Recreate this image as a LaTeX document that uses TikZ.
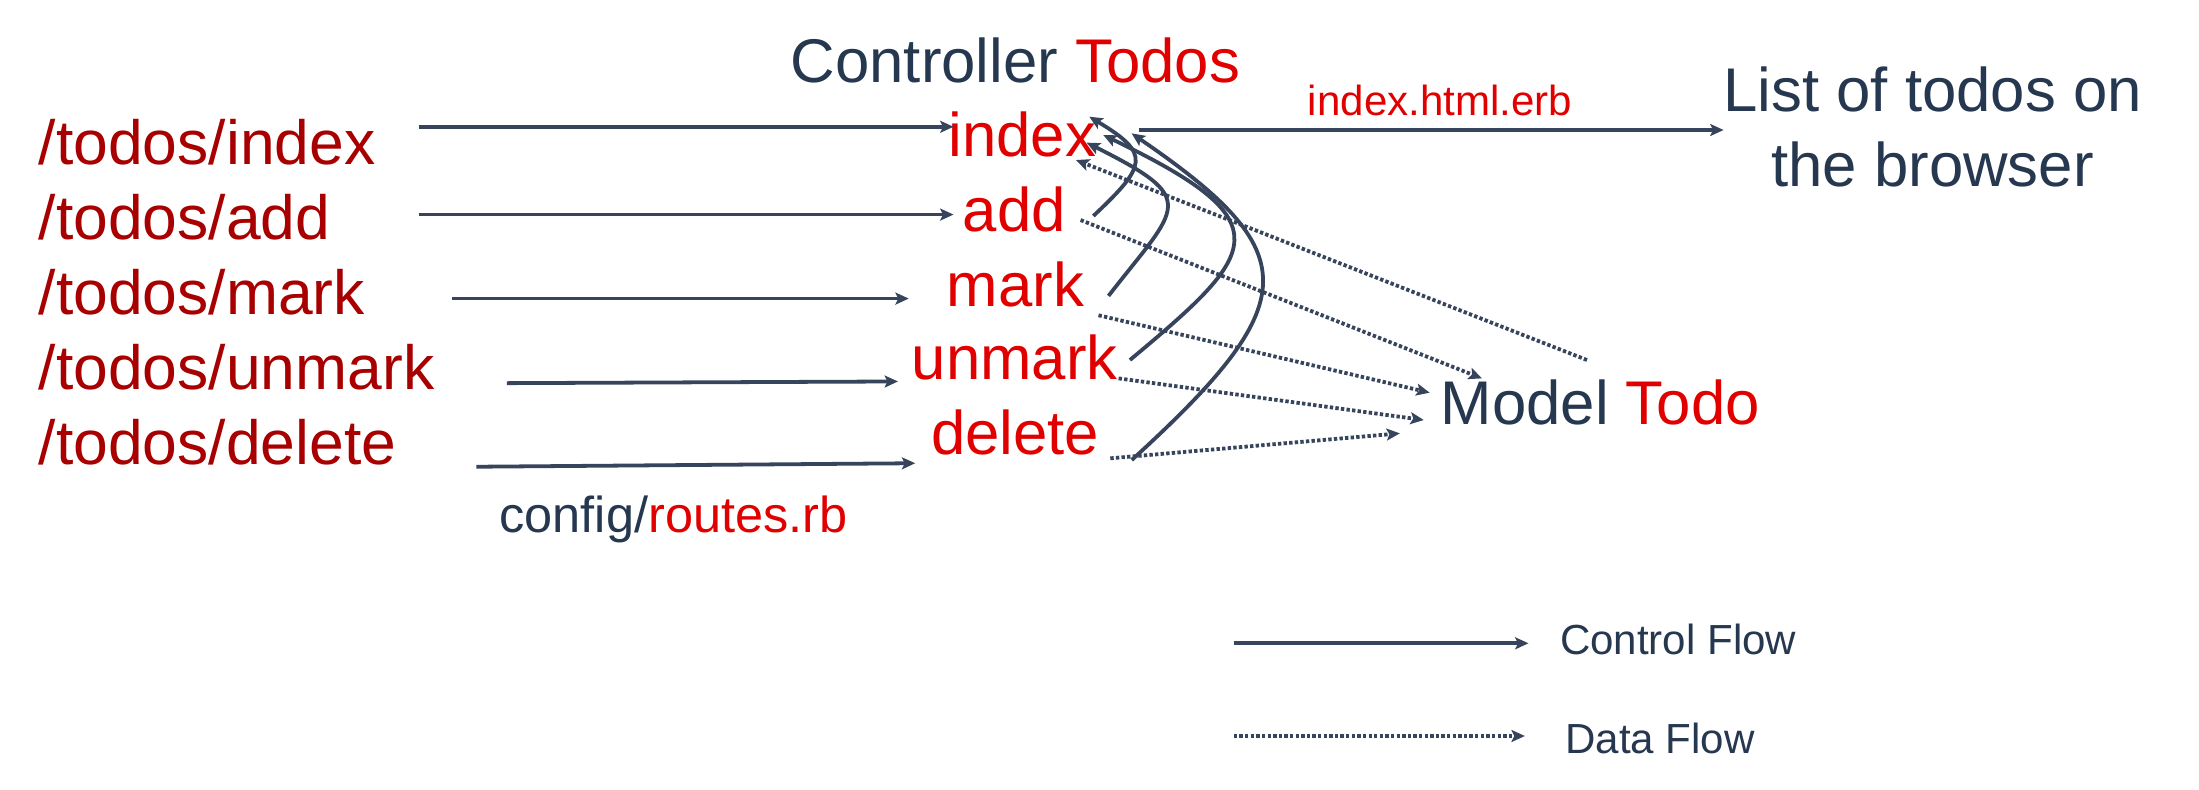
\documentclass[tikz,border=0pt]{standalone}
\usepackage{fontspec}
\setmainfont{Liberation Sans}
\usetikzlibrary{arrows.meta}
\definecolor{slate}{HTML}{263750}
\definecolor{lineslate}{HTML}{36445C}
\definecolor{routered}{HTML}{A80000}
\definecolor{actred}{HTML}{E00000}
\tikzset{
  routelbl/.style={font=\fontsize{44.5}{53}\selectfont, text=routered, inner sep=0pt, anchor=base west},
  actlbl/.style={font=\fontsize{44}{53}\selectfont, text=actred, inner sep=0pt, anchor=base},
  biglbl/.style={font=\fontsize{44}{53.5}\selectfont, text=slate, inner sep=0pt, anchor=base},
  smalllbl/.style={font=\fontsize{30}{36}\selectfont, inner sep=0pt},
  ctrlflow/.style={draw=lineslate, line width=2.7pt, -{Stealth[length=9.5pt,width=8.5pt,inset=2pt]}},
  dataflow/.style={draw=lineslate, line width=2.7pt, dash pattern=on 2.4pt off 1.6pt, -{Stealth[length=9.5pt,width=8.5pt,inset=2pt]}}
}
\begin{document}
\begin{tikzpicture}[x=1pt,y=-1pt]
\path[use as bounding box, fill=white] (0,0) rectangle (1568,562.6);

% titles
\node[biglbl] (ctrl) at (724,58.6) {Controller \textcolor{actred}{Todos}};
\node[biglbl] (model) at (1141,303) {Model \textcolor{actred}{Todo}};
\node[biglbl, align=center] (list) at (1378,133.1) {List of todos on\\the browser};
\node[smalllbl, anchor=base, text=actred] (erb) at (1026.8,82) {index.html.erb};
\node[font=\fontsize{36}{43}\selectfont, inner sep=0pt, anchor=base, text=slate] (routes) at (480.2,379.4) {config/\textcolor{actred}{routes.rb}};

% routes
\node[routelbl] (rIndex) at (27.5,117.1) {/todos/index};
\node[routelbl] (rAdd) at (27.5,170.6) {/todos/add};
\node[routelbl] (rMark) at (27.5,224.1) {/todos/mark};
\node[routelbl] (rUnmark) at (27.5,277.6) {/todos/unmark};
\node[routelbl] (rDelete) at (27.5,331.0) {/todos/delete};

% actions
\node[actlbl] (aIndex) at (729,111.7) {index};
\node[actlbl] (aAdd) at (723.3,165.2) {add};
\node[actlbl] (aMark) at (724,218.2) {mark};
\node[actlbl] (aUnmark) at (723.6,270.9) {unmark};
\node[actlbl] (aDelete) at (723.9,324.4) {delete};

% connector end points
\coordinate (rIndexOut) at (298.8,90.4);   \coordinate (aIndexIn) at (679.9,90.4);
\coordinate (rAddOut) at (298.8,153.0);    \coordinate (aAddIn) at (679.9,153.0);
\coordinate (rMarkOut) at (322.4,212.9);   \coordinate (aMarkIn) at (648,212.9);
\coordinate (rUnmarkOut) at (361.5,273.2); \coordinate (aUnmarkIn) at (640.3,272.0);
\coordinate (rDeleteOut) at (339.7,332.8); \coordinate (aDeleteIn) at (652.6,330.3);

\coordinate (aIndexOut) at (811.8,92.7);   \coordinate (listIn) at (1229,92.7);

\coordinate (aAddUp) at (779.6,154.0);     \coordinate (retA) at (776.7,83.2);
\coordinate (aMarkUp) at (790.4,211.0);    \coordinate (retB) at (774.8,101.7);
\coordinate (aUnmarkUp) at (805.7,256.7);  \coordinate (retC) at (786.7,96.3);
\coordinate (aDeleteUp) at (807.0,328.0);  \coordinate (retD) at (806.9,95.1);

\coordinate (modelOut) at (1131.6,256.7);  \coordinate (aIndexData) at (767.2,114.1);
\coordinate (aAddData) at (770.5,156.9);   \coordinate (modelInA) at (1056.7,269.8);
\coordinate (aMarkData) at (783.3,224.8);  \coordinate (modelInB) at (1019.4,280.0);
\coordinate (aUnmarkData) at (797.6,269.8);\coordinate (modelInC) at (1015.2,299.5);
\coordinate (aDeleteData) at (791.7,326.8);\coordinate (modelInD) at (998.2,309.0);

% routes -> actions
\draw[ctrlflow] (rIndexOut) -- (aIndexIn);
\draw[ctrlflow] (rAddOut) -- (aAddIn);
\draw[ctrlflow] (rMarkOut) -- (aMarkIn);
\draw[ctrlflow] (rUnmarkOut) -- (aUnmarkIn);
\draw[ctrlflow] (rDeleteOut) -- (aDeleteIn);

% index -> browser
\draw[ctrlflow] (aIndexOut) -- (listIn);

% actions back to index
\draw[ctrlflow] (aAddUp) .. controls (817.9,118) and (820.8,109.6) .. (retA);
\draw[ctrlflow] (aMarkUp) .. controls (840.7,146.3) and (856.3,142.5) .. (retB);
\draw[ctrlflow] (aUnmarkUp) .. controls (897.6,180) and (916.7,158.6) .. (retC);
\draw[ctrlflow] (aDeleteUp) .. controls (930.9,215) and (930.9,180) .. (retD);

% data flow
\draw[dataflow] (modelOut) -- (aIndexData);
\draw[dataflow] (aAddData) -- (modelInA);
\draw[dataflow] (aMarkData) -- (modelInB);
\draw[dataflow] (aUnmarkData) -- (modelInC);
\draw[dataflow] (aDeleteData) -- (modelInD);

% legend
\coordinate (legC1) at (879.8,458.7); \coordinate (legC2) at (1089.9,458.7);
\coordinate (legD1) at (879.8,524.8); \coordinate (legD2) at (1087.3,524.8);
\draw[ctrlflow] (legC1) -- (legC2);
\draw[dataflow] (legD1) -- (legD2);
\node[smalllbl, anchor=base west, text=slate] (legCtext) at (1112.2,467) {Control Flow};
\node[smalllbl, anchor=base west, text=slate] (legDtext) at (1116,537.1) {Data Flow};
\end{tikzpicture}
\end{document}
